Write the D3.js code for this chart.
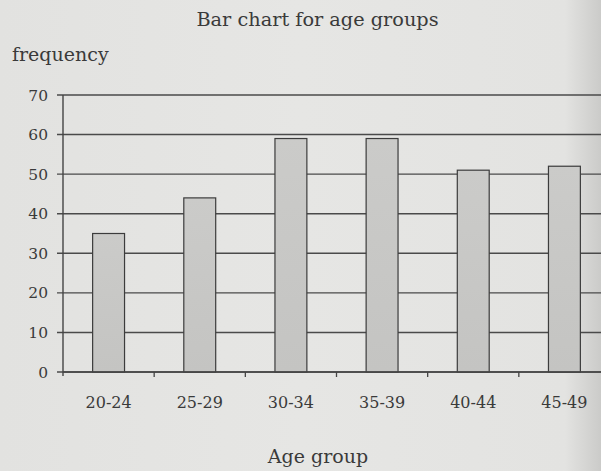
<!DOCTYPE html>
<html><head><meta charset="utf-8">
<script src="https://cdn.jsdelivr.net/npm/d3@7"></script>
<style>
html,body{margin:0;padding:0;background:#e3e3e0;}
svg{display:block;}
text{font-family:"DejaVu Serif",serif;fill:#3a3a3a;}
</style></head>
<body>
<svg id="c" width="601" height="471"></svg>
<script>
const categories = ["20-24","25-29","30-34","35-39","40-44","45-49"];
const frequency = [35, 44, 59, 59, 51, 52];
const yTicks = [0,10,20,30,40,50,60,70];

(function(){
const svg = d3.select("#c");
const mLeft = 63, mRight = 610, mTop = 95, mBottom = 372;

const defs = svg.append("defs");
const bg = defs.append("linearGradient").attr("id","bg").attr("x1","0").attr("x2","1").attr("y1","0").attr("y2","0");
bg.append("stop").attr("offset","0%").attr("stop-color","#e2e2e0");
bg.append("stop").attr("offset","50%").attr("stop-color","#e6e6e4");
bg.append("stop").attr("offset","94%").attr("stop-color","#e3e3e1");
bg.append("stop").attr("offset","100%").attr("stop-color","#cbcbc9");
svg.append("rect").attr("width",601).attr("height",471).attr("fill","url(#bg)");

const barGrad = defs.append("linearGradient").attr("id","bar").attr("x1","0").attr("x2","0").attr("y1","0").attr("y2","1");
barGrad.append("stop").attr("offset","0%").attr("stop-color","#cbcbc9");
barGrad.append("stop").attr("offset","100%").attr("stop-color","#c4c4c2");

const x = d3.scaleBand().domain(categories).range([mLeft, mRight]).paddingInner(0.65).paddingOuter(0.325);
const xStep = d3.scaleBand().domain(categories).range([mLeft, mRight]).padding(0);
const y = d3.scaleLinear().domain([0,70]).range([mBottom, mTop]);

svg.append("g").selectAll("line").data(yTicks).join("line")
  .attr("x1", mLeft-6).attr("x2", 601)
  .attr("y1", d=>y(d)).attr("y2", d=>y(d))
  .attr("stroke","#4a4a4a").attr("stroke-width",1.4);

svg.append("g").selectAll("text").data(yTicks).join("text")
  .attr("x", mLeft-15).attr("y", d=>y(d)).attr("dy","0.36em")
  .attr("text-anchor","end").attr("font-size",15.5).text(d=>d);

svg.append("line").attr("x1",mLeft).attr("x2",mLeft).attr("y1",mTop).attr("y2",mBottom+4)
  .attr("stroke","#444").attr("stroke-width",1.4);

svg.append("g").selectAll("rect").data(frequency).join("rect")
  .attr("x",(d,i)=>x(categories[i])).attr("width",x.bandwidth())
  .attr("y",d=>y(d)).attr("height",d=>y(0)-y(d))
  .attr("fill","url(#bar)").attr("stroke","#3c3c3c").attr("stroke-width",1.2);

svg.append("line").attr("x1",mLeft).attr("x2",601).attr("y1",y(0)).attr("y2",y(0))
  .attr("stroke","#444").attr("stroke-width",1.5);

svg.append("g").selectAll("line").data(categories.slice(1)).join("line")
  .attr("x1",d=>xStep(d)).attr("x2",d=>xStep(d))
  .attr("y1",y(0)).attr("y2",y(0)+5)
  .attr("stroke","#444").attr("stroke-width",1.3);

svg.append("g").selectAll("text").data(categories).join("text")
  .attr("x",d=>x(d)+x.bandwidth()/2).attr("y",408)
  .attr("text-anchor","middle").attr("font-size",16).text(d=>d);

svg.append("text").attr("x",317.5).attr("y",26).attr("text-anchor","middle")
  .attr("font-size",19.3).text("Bar chart for age groups");
svg.append("text").attr("x",12).attr("y",61).attr("font-size",19).text("frequency");
svg.append("text").attr("x",318).attr("y",463).attr("text-anchor","middle")
  .attr("font-size",19).text("Age group");
})();
</script>
</body></html>
